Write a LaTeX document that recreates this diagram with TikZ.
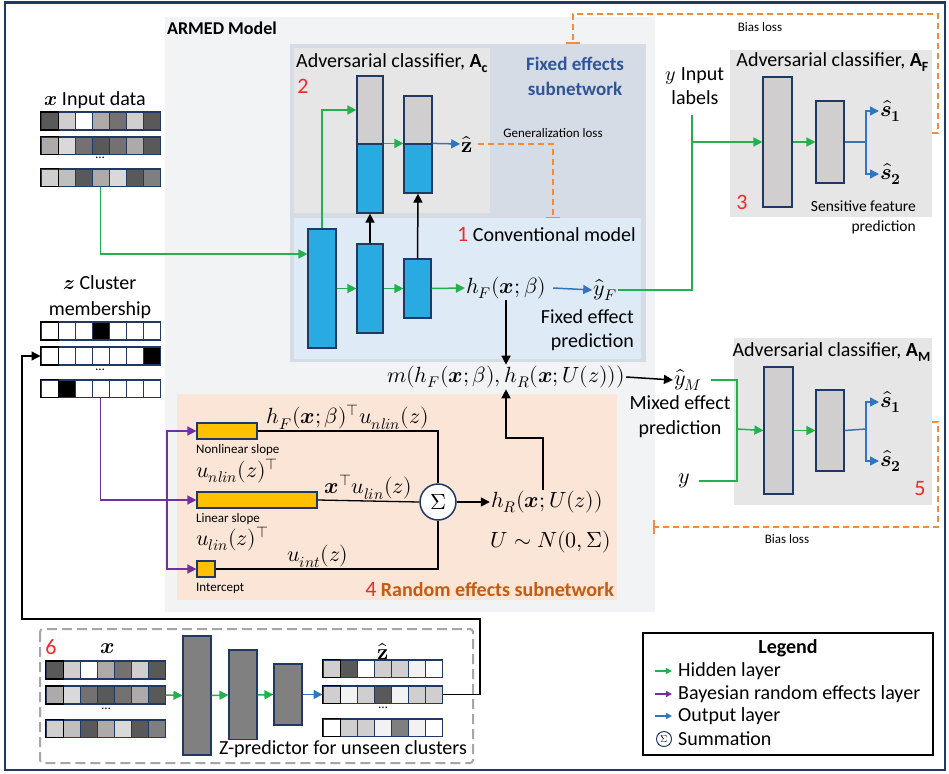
\documentclass[tikz,border=0pt]{standalone}
\usepackage{fontspec}
\usepackage{amsmath}
\usepackage{unicode-math}
\setmainfont{Carlito}
\setmathfont{Latin Modern Math}
\usetikzlibrary{arrows.meta,calc}

\definecolor{navy}{HTML}{1F3864}
\definecolor{hidgreen}{HTML}{22B14C}
\definecolor{relpurple}{HTML}{7030A0}
\definecolor{outblue}{HTML}{2F75C0}
\definecolor{lossorange}{HTML}{F08C3C}
\definecolor{barblue}{HTML}{29ABE2}
\definecolor{bargray}{HTML}{D0CECE}
\definecolor{zbar}{HTML}{808080}
\definecolor{reyellow}{HTML}{FFC000}
\definecolor{advbg}{HTML}{E7E6E6}
\definecolor{fixedbg}{HTML}{D6DCE5}
\definecolor{convbg}{HTML}{DEEBF7}
\definecolor{rebg}{HTML}{FBE5D6}
\definecolor{armedbg}{HTML}{F2F3F5}
\definecolor{numred}{HTML}{EE2A2A}
\definecolor{fixedtitle}{HTML}{2F5597}
\definecolor{retitle}{HTML}{C55A11}
\definecolor{g1}{HTML}{595959}
\definecolor{g2}{HTML}{767171}
\definecolor{g3}{HTML}{7F7F7F}
\definecolor{g4}{HTML}{AEAAAA}
\definecolor{g5}{HTML}{BFBFBF}
\definecolor{g6}{HTML}{D0CECE}
\definecolor{g7}{HTML}{D9D9D9}
\definecolor{g8}{HTML}{F2F2F2}

\tikzset{
  every node/.style={font=\fontsize{20}{24}\selectfont, inner sep=1pt},
  arrowtip/.style={-{Triangle[length=9pt,width=9pt]}},
  hidarr/.style={draw=hidgreen, line width=1.5pt, arrowtip, color=hidgreen},
  relarr/.style={draw=relpurple, line width=1.5pt, arrowtip, color=relpurple},
  outarr/.style={draw=outblue, line width=1.5pt, arrowtip, color=outblue},
  blkarr/.style={draw=black, line width=1.5pt, arrowtip},
  lossline/.style={draw=lossorange, line width=1.5pt, dash pattern=on 6pt off 4pt},
  layerbar/.style={draw=navy, line width=1.2pt, inner sep=0pt},
  bluebar/.style={layerbar, fill=barblue},
  graybar/.style={layerbar, fill=bargray},
  zbarbox/.style={layerbar, fill=zbar},
  yelbar/.style={layerbar, fill=reyellow, minimum height=16pt},
  cellbox/.style={draw=navy, line width=1pt, minimum size=17pt, inner sep=0pt},
  mth/.style={font=\fontsize{22}{26}\selectfont},
  smalltxt/.style={font=\fontsize{13}{16}\selectfont},
  numlbl/.style={font=\fontsize{22}{26}\selectfont, text=numred},
  zbox/.style={draw=black!35, line width=2pt, dash pattern=on 10pt off 5pt, rounded corners=3pt},
  legarr/.style={line width=1.5pt, -{Triangle[length=6pt,width=6pt]}},
}

% one row of 7 cells, name, left x, centre y, colours
\newcommand\cellrow[4]{%
  \foreach \cl [count=\i] in {#4}
    \node[cellbox, fill=\cl] (#1-\i) at ({#2+17*\i-8.5},#3) {};
  \draw[navy, line width=1.2pt] (#1-1.north west) rectangle (#1-7.south east);
  \draw[black, line width=1.5pt] (#1-1.north west) rectangle (#1-1.south east);
}

\begin{document}
\begin{tikzpicture}[x=1pt,y=-1pt]
\useasboundingbox (0,0) rectangle (949,773);
\draw[navy, line width=2.5pt] (5,2.5) rectangle (945,770);

%%%%% panels %%%%%
\fill[armedbg] (165,17) rectangle (655,612);
\node[anchor=west, font=\fontsize{18}{22}\selectfont\bfseries] (armed) at (166,28) {ARMED Model};
\fill[fixedbg] (290,44) rectangle (646,362);
\fill[advbg] (294,48) rectangle (490,213);
\fill[convbg] (294,218) rectangle (641,359);
\fill[rebg] (177,394) rectangle (617,600);
\fill[advbg] (730,50) rectangle (932,217);
\fill[advbg] (734,338) rectangle (932,505);

%%%%% input data and clusters %%%%%
\node (xlab) at (95,100) {$\symbfit{x}$ Input data};
\cellrow{xi1}{41}{121}{g1,g6,white,g4,g2,g6,g1}
\cellrow{xi2}{41}{145.5}{g4,g7,g2,g1,g2,g4,g1}
\node[smalltxt] (xdots) at (100,158) {\ldots};
\cellrow{xi3}{41}{177.5}{g6,g5,g1,g4,g7,g1,g3}

\node[align=center, font=\fontsize{20}{26}\selectfont] (zlab) at (100,297) {$\symbfit{z}$ Cluster\\membership};
\cellrow{z1}{41}{331}{white,white,white,black,white,white,white}
\cellrow{z2}{41}{356}{white,white,white,white,white,white,black}
\node[smalltxt] (zdots) at (100,370) {\ldots};
\cellrow{z3}{41}{388.5}{white,black,white,white,white,white,white}

%%%%% adversarial classifier A_c %%%%%
\node[anchor=west] (actitle) at (295,63) {Adversarial classifier, \textbf{A}\textsubscript{\textbf{c}}};
\node[numlbl] (n2) at (303,86) {2};
\node[align=center, font=\fontsize{19}{25}\selectfont\bfseries, text=fixedtitle] (fixtitle) at (575,76) {Fixed effects\\subnetwork};
\node[graybar, minimum width=26pt, minimum height=68pt] (cag) at (370,110) {};
\node[bluebar, minimum width=26pt, minimum height=69pt] (cab) at (370,178.5) {};
\node[graybar, minimum width=28pt, minimum height=48pt] (cbg) at (418,120) {};
\node[bluebar, minimum width=28pt, minimum height=49pt] (cbb) at (418,168.5) {};
\node[mth] (zhat) at (467,144) {$\hat{\symbf{z}}$};
\node[smalltxt] (genloss) at (553,133) {Generalization loss};

%%%%% conventional model %%%%%
\node[anchor=east] (convlab) at (637,234) {{\fontsize{22}{26}\selectfont\color{numred}1} Conventional model};
\node[bluebar, minimum width=28pt, minimum height=119pt] (fa) at (322,288.5) {};
\node[bluebar, minimum width=26pt, minimum height=89pt] (fb) at (370,288.5) {};
\node[bluebar, minimum width=27pt, minimum height=59pt] (fc) at (417.5,288.5) {};
\node[mth] (hF) at (506,288) {$h_F(\symbfit{x};\beta)$};
\node[mth] (yF) at (605,290) {$\hat{y}_F$};
\node[anchor=east, align=right] (fixpred) at (635,330) {Fixed effect\\prediction};

%%%%% mixed output %%%%%
\node[mth] (mix) at (506,377) {$m(h_F(\symbfit{x};\beta),h_R(\symbfit{x};U(z)))$};
\node[mth] (yM) at (688,380) {$\hat{y}_M$};
\node[align=center, font=\fontsize{20}{25}\selectfont] (mixpred) at (680,417) {Mixed effect\\prediction};

%%%%% random effects subnetwork %%%%%
\node[yelbar, minimum width=60pt] (nl) at (227,431) {};
\node[yelbar, minimum width=120pt] (ls) at (257,500) {};
\node[yelbar, minimum width=18pt] (ic) at (206,569) {};
\node[smalltxt, anchor=west] (nllab) at (195,450) {Nonlinear slope};
\node[mth, anchor=west] (unlin) at (195,471) {$u_{nlin}(z)^{\top}$};
\node[smalltxt, anchor=west] (lslab) at (195,519) {Linear slope};
\node[mth, anchor=west] (ulin) at (195,539) {$u_{lin}(z)^{\top}$};
\node[smalltxt, anchor=west] (iclab) at (195,588) {Intercept};
\node[circle, draw=navy, fill=white, line width=1.5pt, minimum size=36pt, inner sep=0pt, font=\fontsize{22}{24}\selectfont] (sig) at (438,502) {$\Sigma$};
\node[mth] (hR) at (547,502) {$h_R(\symbfit{x};U(z))$};
\node[mth] (prior) at (551,542) {$U\sim N(0,\Sigma)$};
\node[anchor=east] (relab) at (615,590) {{\fontsize{22}{26}\selectfont\color{numred}4} \textbf{\color{retitle}Random effects subnetwork}};

\draw[line width=1.3pt] (nl.east) -| node[pos=0.25, above, mth] {$h_F(\symbfit{x};\beta)^{\top}u_{nlin}(z)$} (sig.north);
\draw[line width=1.3pt] (ls.east) -- node[pos=0.5, above, mth] {$\symbfit{x}^{\top}u_{lin}(z)$} (sig.west);
\draw[line width=1.3pt] (ic.east) -| node[pos=0.23, above, mth] {$u_{int}(z)$} (sig.south);
\draw[blkarr] (sig.east) -- (hR.west);
\coordinate (hk) at (543,438);
\draw[blkarr] (hR.north -| hk) -- (hk) -| (mix.south);

%%%%% adversarial classifier A_F %%%%%
\node[anchor=east] (aftitle) at (930,62) {Adversarial classifier, \textbf{A}\textsubscript{\textbf{F}}};
\node[align=center] (ylab) at (695,86) {$y$ Input\\labels};
\node[graybar, minimum width=29pt, minimum height=130pt] (fa1) at (777.5,142) {};
\node[graybar, minimum width=28pt, minimum height=82pt] (fa2) at (830,142) {};
\node[mth, anchor=west] (sf1) at (879,111) {$\hat{\symbfit{s}}_{\symbf{1}}$};
\node[mth, anchor=west] (sf2) at (879,174) {$\hat{\symbfit{s}}_{\symbf{2}}$};
\node[numlbl] (n3) at (742,202) {3};
\node[anchor=east, align=right, font=\fontsize{15.5}{20}\selectfont] (sens) at (917,217) {Sensitive feature\\prediction};

%%%%% adversarial classifier A_M %%%%%
\node[anchor=east] (amtitle) at (932,352) {Adversarial classifier, \textbf{A}\textsubscript{\textbf{M}}};
\node[graybar, minimum width=29pt, minimum height=127pt] (ma1) at (778.5,430.5) {};
\node[graybar, minimum width=28pt, minimum height=81pt] (ma2) at (830,430.5) {};
\node[mth, anchor=west] (sm1) at (879,402) {$\hat{\symbfit{s}}_{\symbf{1}}$};
\node[mth, anchor=west] (sm2) at (879,461) {$\hat{\symbfit{s}}_{\symbf{2}}$};
\node[mth] (yy) at (684,481) {$y$};
\node[numlbl] (n5) at (920,489) {5};

%%%%% Z-predictor %%%%%
\draw[zbox] (40,629) rectangle (473,763);
\node[numlbl] (n6) at (51,647) {6};
\node[mth] (zpx) at (108,649) {$\symbfit{x}$};
\cellrow{zi1}{46}{670}{g1,g6,white,g4,g2,g6,g1}
\cellrow{zi2}{46}{695}{g4,g7,g2,g1,g2,g4,g1}
\node[smalltxt] (zidots) at (106,709) {\ldots};
\cellrow{zi3}{46}{728.5}{g6,g5,g1,g4,g7,g1,g3}
\node[zbarbox, minimum width=28pt, minimum height=119pt] (pa) at (197,695.5) {};
\node[zbarbox, minimum width=28pt, minimum height=90pt] (pb) at (243,695) {};
\node[zbarbox, minimum width=28pt, minimum height=61pt] (pc) at (288,694.5) {};
\node[mth] (zpz) at (383,651) {$\hat{\symbf{z}}$};
\cellrow{zo1}{323}{668.5}{g6,g1,white,g6,g6,g8,white}
\cellrow{zo2}{323}{694.5}{g6,g8,g6,g1,g8,g6,g6}
\node[smalltxt] (zodots) at (383,708) {\ldots};
\cellrow{zo3}{323}{727.5}{white,g6,g6,g8,g3,g8,white}
\node[fill=white, inner sep=0pt] (zplab) at (343,749) {Z-predictor for unseen clusters};

%%%%% legend %%%%%
\draw[line width=1.5pt] (643,633) rectangle (933,755);
\node[font=\fontsize{20}{24}\selectfont\bfseries] (leg) at (788,648) {Legend};
\node[anchor=west] (lhid) at (677,671) {Hidden layer};
\node[anchor=west] (lrel) at (677,694) {Bayesian random effects layer};
\node[anchor=west] (lout) at (677,716) {Output layer};
\node[anchor=west] (lsum) at (677,739) {Summation};
\node[circle, draw=navy, line width=1pt, minimum size=15pt, inner sep=0pt, font=\fontsize{10}{12}\selectfont] (lsig) at (664,739) {$\Sigma$};
\draw[legarr, hidgreen] (655,671) -- ([xshift=-5pt]lhid.west);
\draw[legarr, relpurple] (655,694) -- ([xshift=-5pt]lrel.west);
\draw[legarr, outblue] (655,716) -- ([xshift=-5pt]lout.west);

%%%%% connectors %%%%%
% hidden layers
\draw[hidarr] (xi3-4.south) |- ([yshift=34.5pt]fa.west);
\draw[hidarr] (fa.north) |- (cag.west);
\draw[hidarr] (fa.east) -- (fb.west);
\draw[hidarr] (fb.east) -- (fc.west);
\draw[hidarr] (fc.east) -- (hF.west);
\draw[hidarr] (cab.north east) -- (cbb.north west);
\draw[blkarr] (fb.north) -- (cab.south);
\draw[blkarr] (fc.north) -- (cbb.south);
\draw[outarr] (cbb.north east) -- (zhat.west);
\draw[outarr] ([xshift=6pt]hF.east) -- (yF.west);
\draw[blkarr] (hF.south) -- (mix.north);
\draw[blkarr] (mix.east) -- (yM.west);

% into A_F
\coordinate (ytop) at (692,115);
\coordinate (yj) at (692,142);
\draw[draw=hidgreen, line width=1.5pt] (yF.east) -| (yj);
\draw[hidarr] (ytop) -- (yj) -- (fa1.west);
\draw[hidarr] (fa1.east) -- (fa2.west);
\coordinate (fs) at (866,142);
\draw[draw=outblue, line width=1.5pt] (fa2.east) -- (fs);
\draw[outarr] (fs) |- (sf1.west);
\draw[outarr] (fs) |- (sf2.west);

% into A_M
\coordinate (mj) at (737,429);
\draw[draw=hidgreen, line width=1.5pt] ([xshift=8pt]yM.east) -| (mj);
\draw[draw=hidgreen, line width=1.5pt] ([xshift=8pt]yy.east) -| (mj);
\draw[hidarr] (mj) -- (ma1.west);
\draw[hidarr] (ma1.east) -- (ma2.west);
\coordinate (ms) at (866,429);
\draw[draw=outblue, line width=1.5pt] (ma2.east) -- (ms);
\draw[outarr] (ms) |- (sm1.west);
\draw[outarr] (ms) |- (sm2.west);

% random effects
\coordinate (pj) at (167,500);
\draw[relarr] (z3-4.south) |- (ls.west);
\draw[relarr] (pj) |- (nl.west);
\draw[relarr] (pj) |- (ic.west);

% Z-predictor
\draw[hidarr] (zi2-7.east) -- (pa.west);
\draw[hidarr] (pa.east) -- (pb.west);
\draw[hidarr] (pb.east) -- (pc.west);
\draw[outarr] (pc.east) -- (zo2-1.west);
\coordinate (loopR) at (480,619);
\coordinate (loopL) at (22,619);
\draw[blkarr, line width=1.3pt] (zo2-7.east) -| (loopR) -- (loopL) |- (z2-1.west);

% losses
\coordinate (gl1) at (553,144);
\coordinate (gl2) at (553,218);
\draw[lossline, -{Bar[width=14pt]}] ([xshift=4pt]zhat.east) -- (gl1) -- (gl2);
\coordinate (bt1) at (932,133);
\coordinate (bt2) at (938,14);
\coordinate (bt3) at (573,44);
\draw[lossline, -{Bar[width=14pt]}] (bt1) -| (bt2) -| (bt3);
\node[smalltxt] (biastop) at (760,27) {Bias loss};
\coordinate (bb1) at (932,422);
\coordinate (bb2) at (938,527);
\coordinate (bb3) at (653,527);
\draw[lossline, -{Bar[width=14pt]}] (bb1) -| (bb2) -- (bb3);
\node[smalltxt] (biasbot) at (787,539) {Bias loss};
\end{tikzpicture}
\end{document}
